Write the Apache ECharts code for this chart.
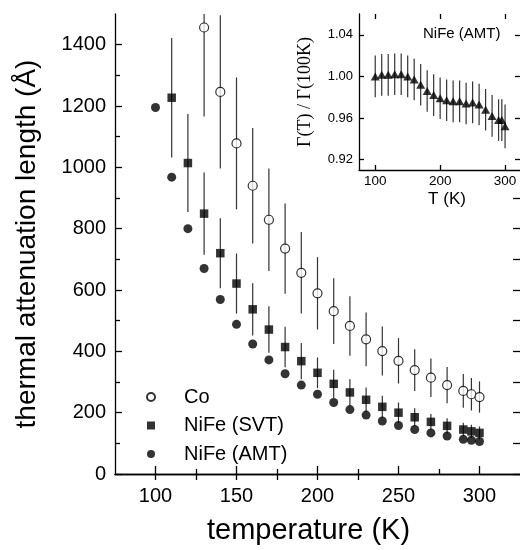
<!DOCTYPE html>
<html><head><meta charset="utf-8">
<script src="https://cdn.jsdelivr.net/npm/echarts@6/dist/echarts.min.js"></script>
<style>html,body{margin:0;padding:0;background:#fff}#c{width:520px;height:550px}</style>
</head><body><div id="c"></div>
<script>
// ---- main plot data ----
const tempCo  = [130,140,150,160,170,180,190,200,210,220,230,240,250,260,270,280,290,295,300];
const lenCo   = [1456,1246,1078,940,829,735,656,589,531,483,439,401,369,339,314,290,271,260,251];
const errCo   = [290,250,215,188,167,147,133,118,107,97,88,80,74,68,63,59,55,53,51];

const tempSVT = [110,120,130,140,150,160,170,180,190,200,210,220,230,240,250,260,270,280,290,295,300];
const lenSVT  = [1227,1014,849,720,621,537,471,414,368,330,294,266,242,219,200,185,170,157,145,139,134];
const errSVT  = [195,160,134,114,98,85,76,66,59,50,46,43,40,36,33,29,26,25,22,22,21];

const tempAMT = [100,110,120,130,140,150,160,170,180,190,200,210,220,230,240,250,260,270,280,290,295,300];
const lenAMT  = [1195,968,800,670,569,488,424,372,327,290,260,233,210,192,173,158,145,134,124,113,110,106];

// ---- inset data ----
const tempRatio = [100,110,120,130,140,150,160,170,180,190,200,210,220,230,240,250,260,270,280,290,295,300];
const ratio     = [1.000,1.0015,1.0015,1.002,1.002,1.000,0.997,0.992,0.986,0.982,0.979,0.977,0.976,0.976,0.974,0.975,0.973,0.968,0.962,0.958,0.958,0.952];
const errRatio  = [0.020,0.020,0.020,0.020,0.020,0.020,0.020,0.020,0.020,0.020,0.020,0.020,0.020,0.020,0.020,0.020,0.020,0.020,0.020,0.020,0.020,0.021];

// ---- tick values ----
const xMainLabels = [100,150,200,250,300];
const xMainMinor  = [125,175,225,275];
const xMainTop    = [100,125,150,175,200,225];
const yMainLabels = [0,200,400,600,800,1000,1200,1400];
const yMainMinor  = [100,300,500,700,900,1100,1300];
const yMainRight  = [0,100,200,300,400,500,600,700,800,900];
const xInsetTicks = [100,200,300];
const yInsetTicks = [0.92,0.96,1.00,1.04];

const FONT = "'Liberation Sans', Arial, Helvetica, sans-serif";
const zip = (a,b,c) => a.map((v,i)=> c ? [v,b[i],c[i]] : [v,b[i]]);

function errRender(params, api){
  const x = api.value(0), y = api.value(1), e = api.value(2);
  const p1 = api.coord([x, y+e]), p2 = api.coord([x, y-e]);
  return {type:'line', shape:{x1:p1[0],y1:p1[1],x2:p2[0],y2:p2[1]},
          style:{stroke:'#333', lineWidth:1.2}};
}

const lineStyle = {color:'#000', width:1.3};
const blankLabel = {show:false};
const plain = v => String(Math.round(v));

const chart = echarts.init(document.getElementById('c'), null, {renderer:'canvas'});
chart.setOption({
  backgroundColor:'#fff',
  animation:false,
  textStyle:{fontFamily:FONT, color:'#000'},
  grid:[
    {left:115, top:14, width:405, height:467},
    {left:359, top:14, width:161, height:156, show:true, backgroundColor:'#fff', borderWidth:0}
  ],
  legend:{
    data:[
      {name:'Co', icon:'circle'},
      {name:'NiFe (SVT)', icon:'path://M0,0L10,0L10,10L0,10Z'},
      {name:'NiFe (AMT)', icon:'circle'}
    ],
    orient:'vertical', left:141, top:380, symbolKeepAspect:true,
    itemWidth:56, itemHeight:8, itemGap:4.5,
    textStyle:{fontSize:20, lineHeight:24, color:'#000', fontFamily:FONT}
  },
  xAxis:[
    {gridIndex:0, type:'value', min:75, max:325, position:'bottom',
     name:'temperature (K)', nameLocation:'middle', nameGap:42,
     nameTextStyle:{fontSize:29, color:'#000', fontFamily:FONT, padding:[0,18,0,0]},
     axisLine:{show:true, lineStyle}, splitLine:{show:false},
     axisTick:{show:true, inside:true, length:8, customValues:xMainLabels, lineStyle},
     axisLabel:{fontSize:20, margin:12, color:'#000', fontFamily:FONT, customValues:xMainLabels, formatter:plain}},
    {gridIndex:0, type:'value', min:75, max:325, position:'bottom',
     axisLine:{show:false}, splitLine:{show:false}, axisLabel:blankLabel,
     axisTick:{show:true, inside:true, length:5, customValues:xMainMinor, lineStyle}},
    {gridIndex:0, type:'value', min:75, max:325, position:'top',
     axisLine:{show:true, lineStyle}, splitLine:{show:false}, axisLabel:blankLabel,
     axisTick:{show:true, inside:true, length:6, customValues:xMainTop, lineStyle}},
    {gridIndex:1, type:'value', min:75, max:323, position:'bottom',
     name:'T (K)', nameLocation:'middle', nameGap:21,
     nameTextStyle:{fontSize:17, color:'#000', fontFamily:FONT, padding:[0,0,0,15]},
     axisLine:{show:true, lineStyle}, splitLine:{show:false},
     axisTick:{show:true, inside:true, length:5, customValues:xInsetTicks, lineStyle},
     axisLabel:{fontSize:13.5, margin:4, color:'#000', fontFamily:FONT, customValues:xInsetTicks, formatter:plain}},
    {gridIndex:1, type:'value', min:75, max:323, position:'top',
     axisLine:{show:false}, splitLine:{show:false}, axisLabel:blankLabel,
     axisTick:{show:true, inside:true, length:5, customValues:xInsetTicks, lineStyle}}
  ],
  yAxis:[
    {gridIndex:0, type:'value', min:0, max:1500, position:'left',
     name:'thermal attenuation length (Å)', nameLocation:'middle', nameGap:74, nameRotate:90,
     nameTextStyle:{fontSize:28, color:'#000', fontFamily:FONT},
     axisLine:{show:true, lineStyle}, splitLine:{show:false},
     axisTick:{show:true, inside:true, length:7, customValues:yMainLabels, lineStyle},
     axisLabel:{fontSize:20, margin:9, color:'#000', fontFamily:FONT, customValues:yMainLabels, formatter:plain}},
    {gridIndex:0, type:'value', min:0, max:1500, position:'left',
     axisLine:{show:false}, splitLine:{show:false}, axisLabel:blankLabel,
     axisTick:{show:true, inside:true, length:5, customValues:yMainMinor, lineStyle}},
    {gridIndex:0, type:'value', min:0, max:1500, position:'right',
     axisLine:{show:false}, splitLine:{show:false}, axisLabel:blankLabel,
     axisTick:{show:true, inside:true, length:7, customValues:yMainRight, lineStyle}},
    {gridIndex:1, type:'value', min:0.91, max:1.06, position:'left',
     name:'Γ(T) / Γ(100K)', nameLocation:'middle', nameGap:45, nameRotate:90,
     nameTextStyle:{fontSize:18, color:'#000', fontFamily:"'Liberation Serif','Times New Roman',serif"},
     axisLine:{show:true, lineStyle}, splitLine:{show:false},
     axisTick:{show:true, inside:true, length:5, customValues:yInsetTicks, lineStyle},
     axisLabel:{fontSize:13, margin:6, color:'#000', fontFamily:FONT, customValues:yInsetTicks,
                formatter:v=>Number(v).toFixed(2)}},
    {gridIndex:1, type:'value', min:0.91, max:1.06, position:'right',
     axisLine:{show:false}, splitLine:{show:false}, axisLabel:blankLabel,
     axisTick:{show:true, inside:true, length:5, customValues:yInsetTicks, lineStyle}}
  ],
  graphic:[
    {type:'text', left:423, top:26, z:100,
     style:{text:'NiFe (AMT)', fontSize:15, fontFamily:FONT, fill:'#000'}}
  ],
  series:[
    {type:'custom', name:'errCo', xAxisIndex:0, yAxisIndex:0, clip:true, z:1,
     data:zip(tempCo,lenCo,errCo), renderItem:errRender, encode:{x:0,y:1}},
    {type:'custom', name:'errSVT', xAxisIndex:0, yAxisIndex:0, clip:true, z:1,
     data:zip(tempSVT,lenSVT,errSVT), renderItem:errRender, encode:{x:0,y:1}},
    {type:'scatter', name:'Co', xAxisIndex:0, yAxisIndex:0, z:3,
     symbol:'circle', symbolSize:9, data:zip(tempCo,lenCo),
     itemStyle:{color:'#fff', borderColor:'#000', borderWidth:1.2}},
    {type:'scatter', name:'NiFe (SVT)', xAxisIndex:0, yAxisIndex:0, z:3,
     symbol:'rect', symbolSize:8.5, data:zip(tempSVT,lenSVT),
     itemStyle:{color:'#000'}},
    {type:'scatter', name:'NiFe (AMT)', xAxisIndex:0, yAxisIndex:0, z:3,
     symbol:'circle', symbolSize:9, data:zip(tempAMT,lenAMT),
     itemStyle:{color:'#000'}},
    {type:'custom', name:'errRatio', xAxisIndex:3, yAxisIndex:3, clip:true, z:4,
     data:zip(tempRatio,ratio,errRatio), renderItem:errRender, encode:{x:0,y:1}},
    {type:'scatter', name:'ratio', xAxisIndex:3, yAxisIndex:3, z:5,
     symbol:'triangle', symbolSize:[9,8], data:zip(tempRatio,ratio),
     itemStyle:{color:'#000'}}
  ]
});
</script>
</body></html>
